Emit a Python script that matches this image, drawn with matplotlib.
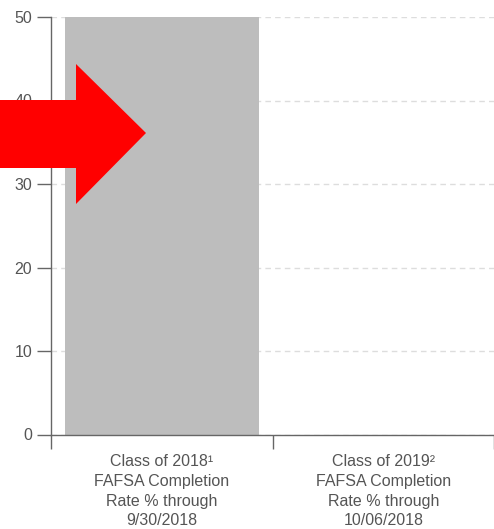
import matplotlib.pyplot as plt
from matplotlib.patches import Polygon

plt.rcParams['font.family'] = ['Liberation Sans', 'DejaVu Sans']

# data
categories = ['Class of 2018\u00b9\nFAFSA Completion\nRate % through\n9/30/2018',
              'Class of 2019\u00b2\nFAFSA Completion\nRate % through\n10/06/2018']
rates = [50, 0]
yticks = [0, 10, 20, 30, 40, 50]

W, H = 494, 529
fig = plt.figure(figsize=(W / 100, H / 100), dpi=100)
ax = fig.add_axes([51 / W, 1 - 434.5 / H, (W - 51) / W, 417.5 / H])

cat_px = 225
x = list(range(len(categories)))
ax.bar(x[:1], rates[:1], width=197 / cat_px, color='#bdbdbd', zorder=2)

ax.set_xlim(-0.5, -0.5 + (W - 51) / cat_px)
ax.set_ylim(0, 50)
ax.set_yticks(yticks)
ax.set_xticks(x)
ax.set_xticklabels(categories, color='#555555', fontsize=11.5, linespacing=1.4)
ax.set_xticks([-0.5, 0.5, 1.5], minor=True)
ax.tick_params(axis='x', which='major', length=0, pad=14)
ax.tick_params(axis='x', which='minor', length=10, width=1, color='#666666')
ax.tick_params(axis='y', length=10, width=1, color='#666666', labelcolor='#555555',
               labelsize=11.5, pad=3.5)

ax.grid(axis='y', linestyle=(0, (4, 3)), color='#dddddd', linewidth=1, zorder=0)
ax.set_axisbelow(True)
for s in ['top', 'right']:
    ax.spines[s].set_visible(False)
for s in ['left', 'bottom']:
    ax.spines[s].set_color('#666666')
    ax.spines[s].set_linewidth(1)

# red arrow overlay (pixel coords from top-left)
pts = [(0, 100), (76, 100), (76, 64), (146, 133), (76, 204), (76, 168), (0, 168)]
pts = [(px / W, 1 - py / H) for px, py in pts]
fig.patches.append(Polygon(pts, closed=True, facecolor='#ff0000', edgecolor='none',
                           transform=fig.transFigure, zorder=10))

fig.savefig('out.png', dpi=100)
